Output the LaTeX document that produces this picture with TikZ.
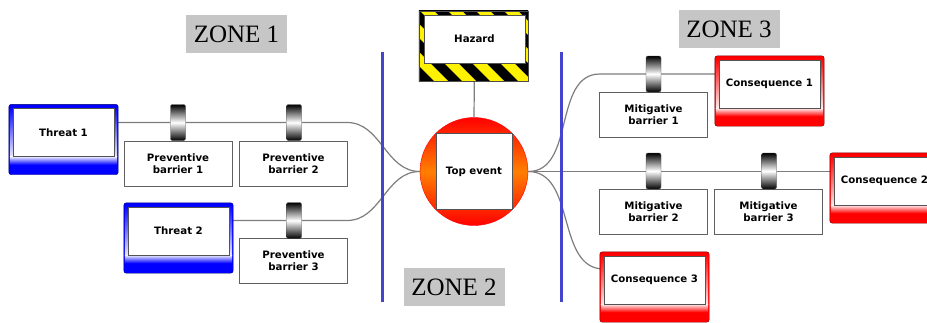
\documentclass[tikz,border=0pt]{standalone}
\usepackage{fontspec}
\setmainfont{Liberation Serif}
\setsansfont{DejaVu Sans}
\usetikzlibrary{backgrounds}
\definecolor{wallblue}{RGB}{68,68,205}
\definecolor{linkgray}{RGB}{125,125,125}
\newcommand\boxfont{\sffamily\bfseries\fontsize{10.2}{12}\selectfont}

\begin{document}
\begin{tikzpicture}[x=1pt, y=-1pt,
    every node/.style={align=center, inner sep=1pt, font=\boxfont},
    link/.style={draw=linkgray, line width=1.2pt},
    knob/.style={draw=gray!60!black, rounded corners=2pt, minimum width=15pt, minimum height=36pt,
      top color=black, bottom color=black, middle color=white},
    barrier/.style={draw=gray!75!black, fill=white, minimum width=108pt, minimum height=45pt},
    inbox/.style={draw=gray!65!black, fill=white, minimum width=101pt, minimum height=48pt},
    event/.style={circle, draw=red, minimum size=108pt, top color=red, bottom color=red, middle color=orange},
    zone/.style={fill=gray!45, minimum width=101pt, minimum height=38pt, font=\rmfamily\fontsize{25}{25}\selectfont},
    wall/.style={draw=wallblue, line width=3pt}
  ]
  \useasboundingbox (0,0) rectangle (927,322);

  % threats and preventive barriers
  \node[inbox] (t1) at (63.5,132.5) {Threat 1};
  \node[inbox] (t2) at (178.5,231) {Threat 2};
  \node[barrier] (pb1) at (178,163.5) {Preventive\\barrier 1};
  \node[barrier] (pb2) at (293.5,163.5) {Preventive\\barrier 2};
  \node[barrier] (pb3) at (293.5,260.5) {Preventive\\barrier 3};
  \node[knob] (k1) at (178,122.5) {};
  \node[knob] (k2) at (294,122.5) {};
  \node[knob] (k3) at (294,220.5) {};

  % hazard and top event
  \node[inbox] (hz) at (474.5,39) {Hazard};
  \node[event] (te) at (474,171.5) {};
  \node[inbox, minimum width=76pt, minimum height=76pt] (tebox) at (te) {Top event};

  % mitigative barriers and consequences
  \node[barrier] (mb1) at (653.5,114.5) {Mitigative\\barrier 1};
  \node[barrier] (mb2) at (653.5,211.5) {Mitigative\\barrier 2};
  \node[barrier] (mb3) at (768.5,211.5) {Mitigative\\barrier 3};
  \node[knob] (k4) at (653.5,74) {};
  \node[knob] (k5) at (653.5,171) {};
  \node[knob] (k6) at (769,171) {};
  \node[inbox] (c1) at (769.5,84) {Consequence 1};
  \node[inbox] (c2) at (884.5,181) {Consequence 2};
  \node[inbox] (c3) at (654.5,280) {Consequence 3};

  % zones
  \node[zone] (z1) at (236.5,34) {ZONE 1};
  \node[zone] (z2) at (454,287) {ZONE 2};
  \node[zone] (z3) at (729,29) {ZONE 3};
  \draw[wall] (382,52) -- (382,302);
  \draw[wall] (561,52) -- (561,302);

  \begin{scope}[on background layer]
    % links
    \draw[link] (t1.east |- k1) -- (k1) -- (k2) -- ([xshift=53pt]k2.center) to[out=0,in=180] (te.west);
    \draw[link] (t2.east |- k3) -- (k3) -- ([xshift=53pt]k3.center) to[out=0,in=180] (te.west);
    \draw[link] (hz.south) -- (te.north);
    \draw[link] (te.east) to[out=0,in=180] ([xshift=-53.5pt]k4.center) -- (k4) -- (c1.west |- k4);
    \draw[link] (te.east) -- (te.east -| c2.west);
    \draw[link] (te.east) to[out=0,in=180] ([yshift=11pt]c3.west);
    % frames
    \foreach \n/\c in {t1/blue, t2/blue, c1/red, c2/red, c3/red}{
      \draw[rounded corners=2.5pt, draw=\c!45!black, fill=\c] ([shift={(-4,-4)}]\n.north west) rectangle ([shift={(4,18)}]\n.south east);
      \shade[top color=\c, bottom color=\c!8] ([shift={(-3,-2)}]\n.north west) rectangle ([shift={(3,0)}]\n.south east);
      \shade[top color=\c!8, bottom color=\c] ([shift={(-3,0)}]\n.south west) rectangle ([shift={(3,8)}]\n.south east);
    }
    \begin{scope}
      \clip ([shift={(-5,-4)}]hz.north west) rectangle ([shift={(3,18)}]hz.south east);
      \fill[black] (400,0) rectangle (540,90);
      \foreach \x in {336,364,...,532}
        \fill[yellow] (\x,11) -- ++(14,0) -- ++(70,70) -- ++(-14,0) -- cycle;
    \end{scope}
    \draw[gray!60!black] ([shift={(-5,-4)}]hz.north west) rectangle ([shift={(3,18)}]hz.south east);
  \end{scope}
\end{tikzpicture}
\end{document}
